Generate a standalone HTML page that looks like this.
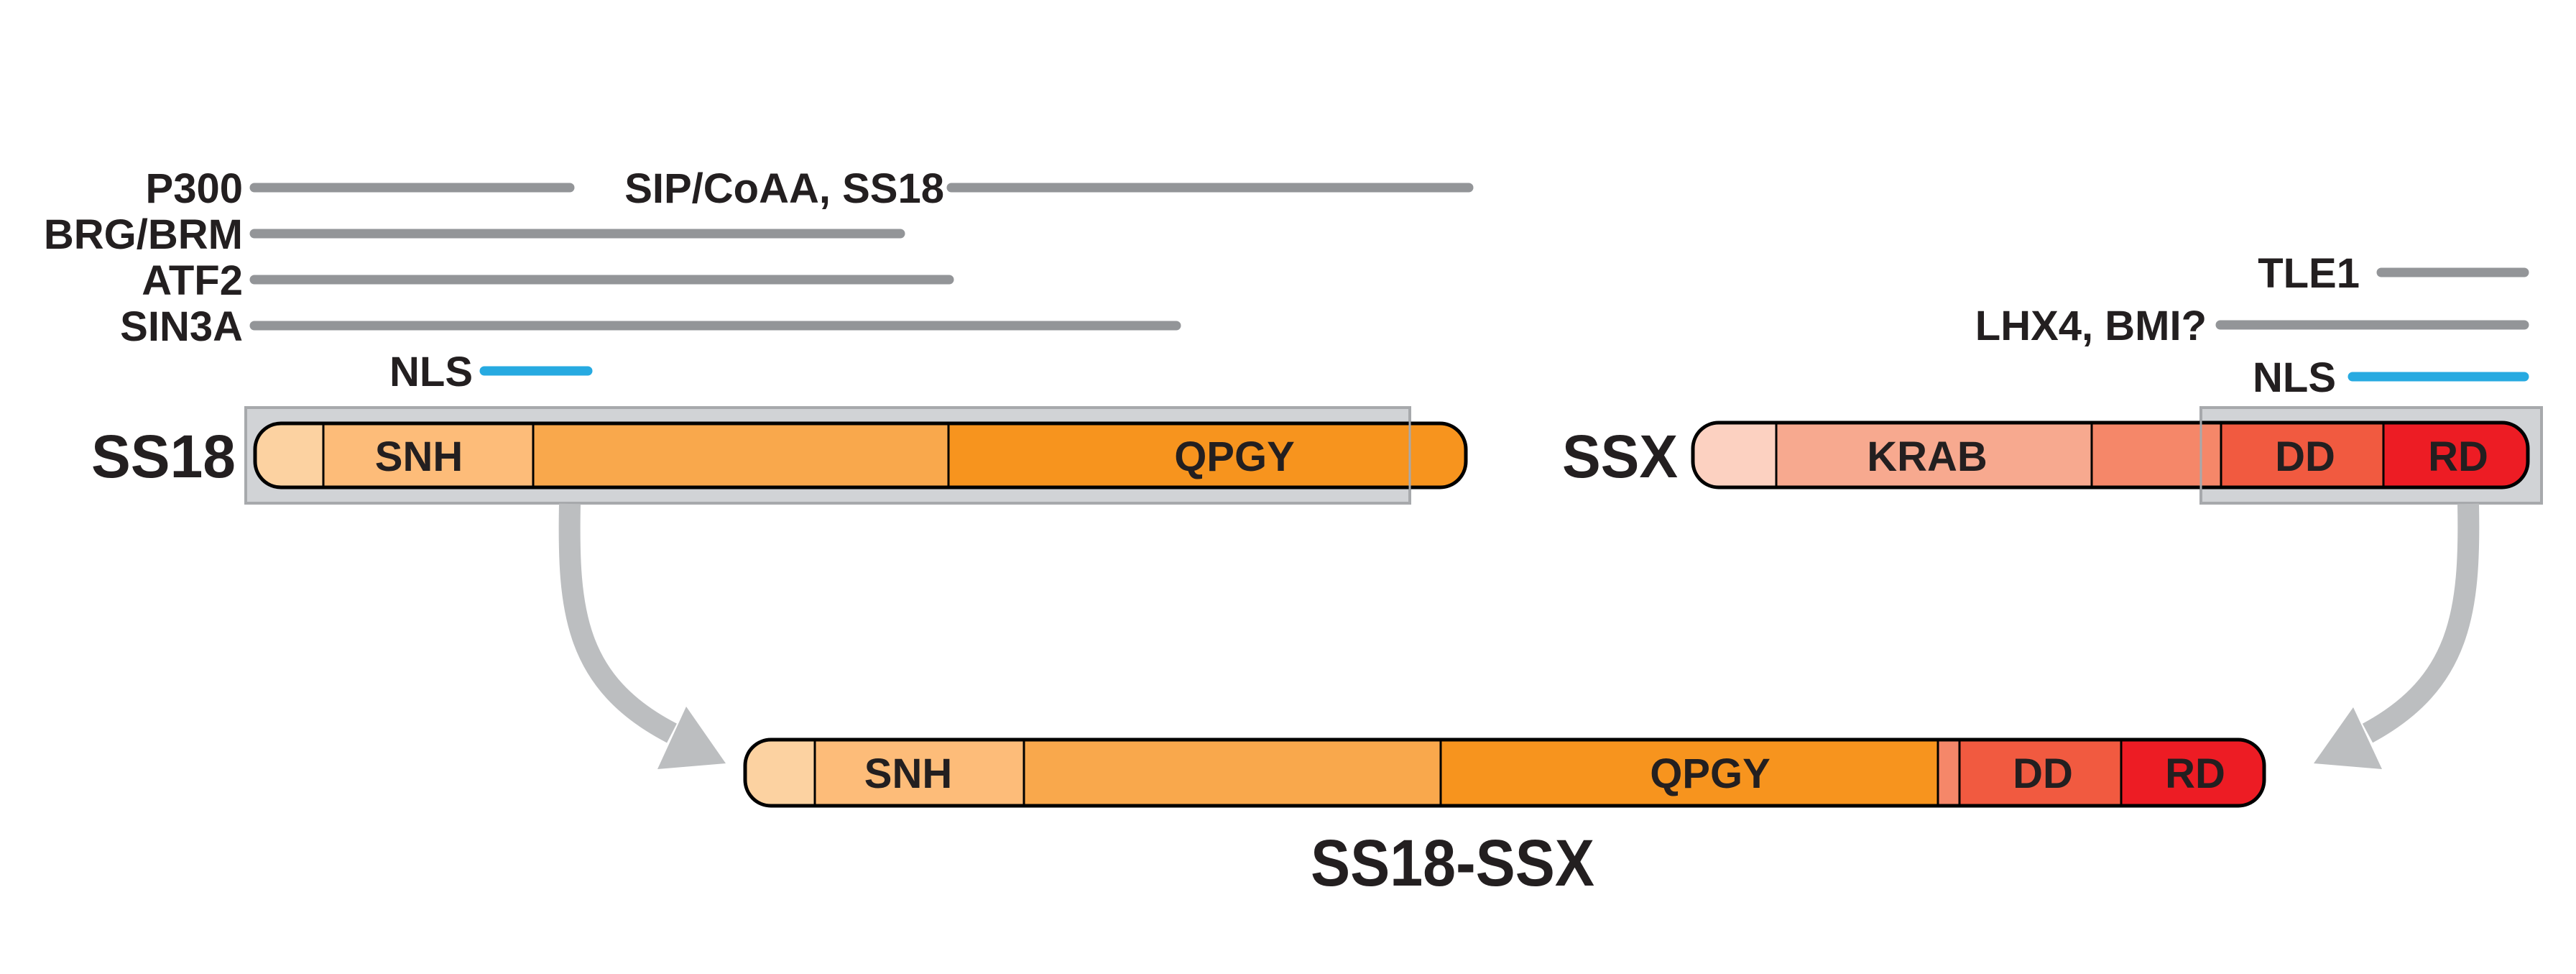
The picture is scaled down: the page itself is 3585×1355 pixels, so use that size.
<!DOCTYPE html>
<html><head><meta charset="utf-8"><style>html,body{margin:0;padding:0;background:#fff}svg{display:block}</style></head>
<body>
<svg width="3585" height="1355" viewBox="0 0 3585 1355" xmlns="http://www.w3.org/2000/svg" font-family="Liberation Sans, Arial, sans-serif" font-weight="bold" fill="#231f20">
<defs>
<clipPath id="c1"><rect x="355" y="589" width="1685" height="89" rx="36"/></clipPath>
<clipPath id="c2"><rect x="2356" y="588" width="1162" height="90" rx="36"/></clipPath>
<clipPath id="c3"><rect x="1037" y="1029" width="2114" height="92" rx="36"/></clipPath>
</defs>
<!-- interaction lines -->
<g stroke-linecap="round" stroke-width="13">
<line x1="354" y1="261" x2="793" y2="261" stroke="#939598"/>
<line x1="1324" y1="261" x2="2044" y2="261" stroke="#939598"/>
<line x1="354" y1="325" x2="1253" y2="325" stroke="#939598"/>
<line x1="354" y1="389" x2="1321" y2="389" stroke="#939598"/>
<line x1="354" y1="453" x2="1637" y2="453" stroke="#939598"/>
<line x1="674" y1="516" x2="818" y2="516" stroke="#27aae1"/>
<line x1="3314" y1="379" x2="3513" y2="379" stroke="#939598"/>
<line x1="3090" y1="452" x2="3513" y2="452" stroke="#939598"/>
<line x1="3274" y1="524" x2="3513" y2="524" stroke="#27aae1"/>
</g>
<g font-size="58" text-anchor="end">
<text x="338" y="282">P300</text>
<text x="1314" y="282">SIP/CoAA, SS18</text>
<text x="338" y="346">BRG/BRM</text>
<text x="338" y="410">ATF2</text>
<text x="338" y="474">SIN3A</text>
<text x="658" y="537">NLS</text>
<text x="3284" y="400">TLE1</text>
<text x="3071" y="473">LHX4, BMI?</text>
<text x="3251" y="545">NLS</text>
</g>
<!-- grey boxes -->
<rect x="342" y="567" width="1620" height="133" fill="#d1d3d6" stroke="#a7a9ac" stroke-width="4"/>
<rect x="3063" y="567" width="474" height="133" fill="#d1d3d6" stroke="#a7a9ac" stroke-width="4"/>
<!-- SS18 bar -->
<g clip-path="url(#c1)">
<rect x="350" y="580" width="100" height="110" fill="#fcd2a1"/>
<rect x="450" y="580" width="292" height="110" fill="#fdbc79"/>
<rect x="742" y="580" width="578" height="110" fill="#f9a84c"/>
<rect x="1320" y="580" width="730" height="110" fill="#f7941e"/>
</g>
<g stroke="#000" stroke-width="3"><line x1="450" y1="589" x2="450" y2="678"/><line x1="742" y1="589" x2="742" y2="678"/><line x1="1320" y1="589" x2="1320" y2="678"/></g>
<rect x="355" y="589" width="1685" height="89" rx="36" fill="none" stroke="#000" stroke-width="5"/>
<line x1="1962" y1="569" x2="1962" y2="698" stroke="#a7a9ac" stroke-width="3"/>
<!-- SSX bar -->
<g clip-path="url(#c2)">
<rect x="2350" y="580" width="122" height="110" fill="#fcd1c1"/>
<rect x="2472" y="580" width="439" height="110" fill="#f7a98f"/>
<rect x="2911" y="580" width="180" height="110" fill="#f58769"/>
<rect x="3091" y="580" width="226" height="110" fill="#f15a40"/>
<rect x="3317" y="580" width="210" height="110" fill="#ed1c24"/>
</g>
<g stroke="#000" stroke-width="3"><line x1="2472" y1="588" x2="2472" y2="678"/><line x1="2911" y1="588" x2="2911" y2="678"/><line x1="3091" y1="588" x2="3091" y2="678"/><line x1="3317" y1="588" x2="3317" y2="678"/></g>
<rect x="2356" y="588" width="1162" height="90" rx="36" fill="none" stroke="#000" stroke-width="5"/>
<line x1="3063" y1="569" x2="3063" y2="698" stroke="#a7a9ac" stroke-width="3"/>
<!-- fusion bar -->
<g clip-path="url(#c3)">
<rect x="1030" y="1020" width="104" height="110" fill="#fcd2a1"/>
<rect x="1134" y="1020" width="291" height="110" fill="#fdbc79"/>
<rect x="1425" y="1020" width="580" height="110" fill="#f9a84c"/>
<rect x="2005" y="1020" width="692" height="110" fill="#f7941e"/>
<rect x="2697" y="1020" width="30" height="110" fill="#f58769"/>
<rect x="2727" y="1020" width="225" height="110" fill="#f15a40"/>
<rect x="2952" y="1020" width="210" height="110" fill="#ed1c24"/>
</g>
<g stroke="#000" stroke-width="3"><line x1="1134" y1="1029" x2="1134" y2="1121"/><line x1="1425" y1="1029" x2="1425" y2="1121"/><line x1="2005" y1="1029" x2="2005" y2="1121"/><line x1="2697" y1="1029" x2="2697" y2="1121"/><line x1="2727" y1="1029" x2="2727" y2="1121"/><line x1="2952" y1="1029" x2="2952" y2="1121"/></g>
<rect x="1037" y="1029" width="2114" height="92" rx="36" fill="none" stroke="#000" stroke-width="5"/>
<!-- in-bar labels -->
<g font-size="58" text-anchor="middle">
<text x="583" y="655">SNH</text>
<text x="1718" y="655">QPGY</text>
<text x="2682" y="655">KRAB</text>
<text x="3208" y="655">DD</text>
<text x="3421" y="655">RD</text>
<text x="1264" y="1096">SNH</text>
<text x="2380" y="1096">QPGY</text>
<text x="2843" y="1096">DD</text>
<text x="3055" y="1096">RD</text>
</g>
<text x="127" y="664" font-size="84" textLength="201" lengthAdjust="spacingAndGlyphs">SS18</text>
<text x="2174" y="664" font-size="84" textLength="161" lengthAdjust="spacingAndGlyphs">SSX</text>
<text x="1824" y="1232" font-size="92" textLength="395" lengthAdjust="spacingAndGlyphs">SS18-SSX</text>
<!-- arrows -->
<path d="M793,701 C790,850 800,950 935,1020" fill="none" stroke="#bcbec0" stroke-width="30"/>
<polygon points="955,983 915,1070 1010,1062" fill="#bcbec0"/>
<path d="M3435,701 C3438,850 3425,950 3295,1020" fill="none" stroke="#bcbec0" stroke-width="30"/>
<polygon points="3275,984 3220,1062 3315,1070" fill="#bcbec0"/>
</svg>
</body></html>
